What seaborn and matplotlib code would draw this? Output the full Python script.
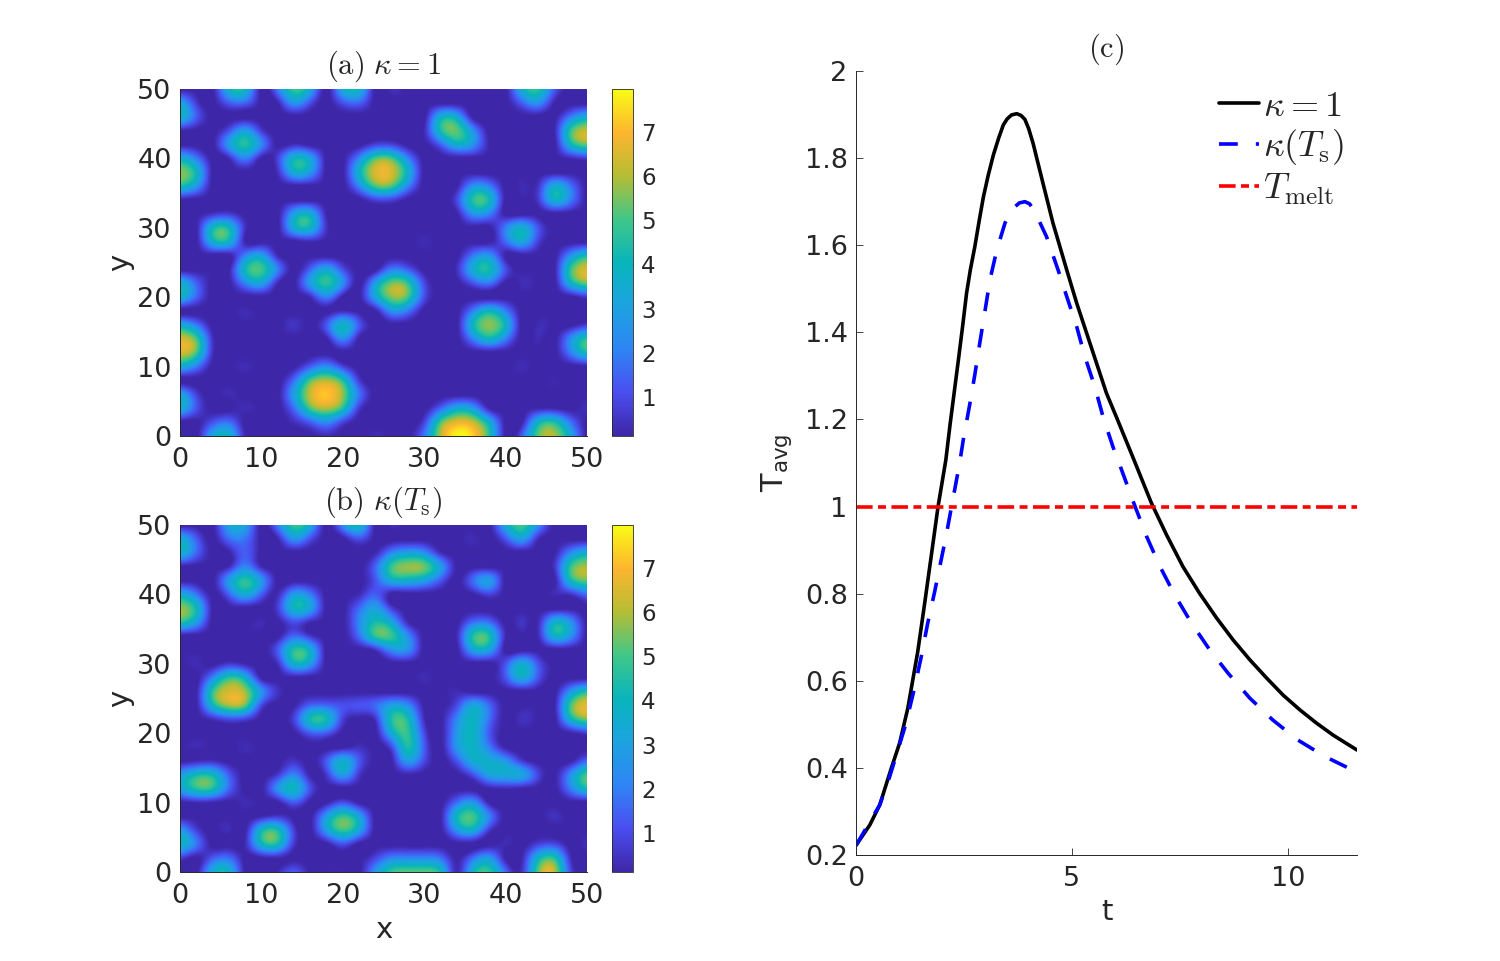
import matplotlib
matplotlib.use("Agg")
import matplotlib.pyplot as plt
import seaborn as sns
import numpy as np
from matplotlib.colors import LinearSegmentedColormap

# field values, nodes every 2 units, rows from y=50 down to y=0
field_a = [
    [0,0,0,3.7,4,0,2,4.8,3.3,0,3.4,3.8,0,.4,0,0,0,0,0,0,0,3.5,4.6,1.4,0,0],
    [3.2,.7,0,1.3,1.5,0,.2,2.6,1.1,0,1.1,1.5,0,0,0,0,0,0,0,0,0,1.4,2.5,.2,0,0],
    [3.9,1.4,0,0,0,0,0,0,0,0,0,0,0,0,0,0,3.4,3.3,0,0,0,0,0,0,2,3.4],
    [.2,0,0,1.1,2.9,.7,0,0,0,0,0,0,0,0,0,.3,4.2,5.2,2.5,0,0,0,0,.2,4.7,6.2],
    [0,0,0,2.7,4.5,2.3,0,.4,0,0,0,0,.8,.8,0,0,1.4,3.5,2.5,.2,0,0,0,0,3.8,5.3],
    [3.7,2,0,.3,2.1,.1,.8,3.8,3.1,0,0,2.2,5,5,2.2,0,0,0,0,0,0,0,0,0,.3,.7],
    [5.7,4,.1,0,0,0,.4,3.4,2.7,0,0,3.7,6.4,6.4,3.7,0,0,0,0,0,0,0,0,0,0,0],
    [4.3,2.7,0,0,0,0,0,0,0,0,0,2.2,5,5,2.2,0,0,.1,2.5,2.1,0,.3,.5,3.4,1.8,0],
    [.1,0,0,0,0,0,0,0,0,0,0,0,.8,.8,0,0,0,.9,4.5,4.1,0,0,.6,3.6,2,0],
    [0,0,.5,.7,0,0,0,2.9,3.5,.2,0,0,0,0,0,0,0,.1,2.5,2.1,0,0,0,0,0,0],
    [0,.1,3.9,4.1,.5,0,0,3.3,3.8,.5,0,0,0,0,0,0,0,0,0,0,2,3.6,1.2,0,0,0],
    [0,0,3.5,3.7,.2,0,0,0,.3,0,0,0,0,0,0,.3,0,0,0,0,1.6,3.2,.8,0,0,0],
    [0,0,0,0,2.1,3,.3,0,0,0,0,0,0,0,0,0,0,0,1.9,2.6,.1,0,0,0,2.5,4.2],
    [0,0,0,.1,4,4.9,2.1,0,1.5,3.2,1.1,0,0,2,1.4,0,0,.4,3.4,4.2,1.1,0,0,.1,4.7,6.5],
    [3.7,1.5,0,0,2.1,3,.3,0,2.8,4.6,2.4,0,2.9,5.4,4.7,1,0,0,1.1,1.8,0,.3,0,0,3.6,5.3],
    [3.7,1.5,0,0,0,0,0,0,.3,2.1,0,0,3,5.5,4.9,1.1,0,0,0,0,0,0,0,0,0,.6],
    [0,0,0,0,.3,0,0,0,0,0,.3,0,.1,2.5,1.9,0,0,0,2.1,3.9,2.1,0,0,0,0,0],
    [3.5,2,0,0,0,0,0,.5,0,1.3,3.8,1.3,0,0,0,0,0,0,3.9,5.6,3.9,0,.3,0,0,.7],
    [6.4,5,.5,0,0,0,0,0,0,.1,2.3,.1,0,0,0,0,0,0,2.1,3.9,2.1,0,.3,0,2.4,4.6],
    [6.4,5,.5,0,0,0,0,0,0,0,0,0,0,0,0,0,0,0,0,0,0,0,0,0,2,4.2],
    [3.5,2,0,0,.3,0,0,.1,1.4,2.4,.9,0,0,0,0,0,0,0,0,0,0,.3,0,0,0,.1],
    [0,0,0,0,0,0,0,1.7,5,6,4.5,.7,0,0,0,0,0,0,0,0,0,0,0,.2,0,0],
    [3.2,.8,0,.3,0,0,0,2.9,6.2,7.2,5.7,1.9,0,0,0,0,0,0,0,0,0,0,0,0,0,0],
    [3.6,1.2,0,0,.3,0,0,1.7,5,6,4.5,.7,0,0,0,0,1.5,3.3,2.8,.2,0,0,.2,.2,0,.4],
    [0,0,1.1,1.7,0,0,0,.4,1.4,2.4,.9,0,0,0,0,.8,4.9,6.6,6.2,3.5,0,.1,3.7,4.3,1.8,0],
    [0,0,3.1,3.8,.3,0,0,0,0,.3,0,0,.3,0,0,1.9,6,7.9,7.4,4.6,.1,1.4,5.2,5.9,3.3,0],
]
field_b = [
    [0,0,0,3,3,0,2,4.8,3.3,0,2.3,4,.1,.4,0,0,0,0,0,0,3.3,5,2.5,0,0,0],
    [3.5,1.4,0,1.6,1.8,0,.2,2.6,1.1,0,0,1.1,0,0,0,0,0,0,.3,0,1.2,2.9,.4,0,0,0],
    [3.8,1.6,0,.1,1.4,0,0,0,0,0,0,0,.2,2.2,3,2.5,.4,0,0,0,0,0,0,.1,2.3,3.5],
    [.1,0,0,.3,2.2,.3,0,0,0,0,0,0,1.5,4.8,5.7,5.4,2.9,.1,0,0,0,0,0,.5,4.7,5.9],
    [0,0,0,2.7,4.6,2.7,0,0,0,0,0,0,1.2,3.4,3.6,3,1.3,0,1.6,2.8,0,0,0,0,4,5.3],
    [3.5,1.9,0,1.4,3.3,1.4,.3,2.8,2,0,0,.3,1.4,0,0,0,0,0,.1,.8,0,0,0,.3,.5,1.7],
    [5.8,4.1,.1,0,0,0,.7,3.8,3,0,0,1.6,3,.8,0,0,0,0,0,0,0,0,0,0,0,0],
    [4.6,2.9,0,0,0,.3,0,1.1,.3,0,0,2.2,4.3,3.2,.3,0,0,0,1.7,1.7,0,.5,.3,3.6,2.5,0],
    [0,0,0,0,0,0,0,1.6,.6,0,0,1.7,4.7,4.8,2.4,0,0,.3,4.4,4.4,.3,0,.3,3.6,2.5,0],
    [0,0,0,0,0,0,1.3,4.5,3.6,0,0,0,.5,2.4,2.4,0,0,0,3,3,0,0,0,0,0,0],
    [0,.3,0,.6,.2,0,.4,3.6,2.8,0,0,0,0,0,0,0,0,0,0,0,1.2,3.4,1.2,0,0,0],
    [0,0,2.2,4.6,3.6,.1,0,.1,0,0,0,0,0,0,0,.3,0,0,0,0,1.2,3.4,1.2,0,0,0],
    [0,.1,4.6,6.4,5.8,2.6,.5,0,0,0,0,0,0,0,0,0,0,.3,0,0,0,0,0,0,2.6,4.4],
    [0,.1,3.8,5.8,5.2,1,0,.1,1.5,1.6,1.1,1.2,1.6,3,2.4,.1,0,1,3.2,1.6,0,0,0,.1,4.9,6.7],
    [0,0,.4,1,.8,0,0,.8,4.1,4.1,.8,0,.5,4.4,4.3,.4,0,2.2,3.9,1.7,0,.4,0,0,3.7,5.4],
    [0,0,0,0,0,0,0,0,1.3,1.3,0,0,0,3.3,4.7,1,0,2.6,3.9,1.3,0,0,0,0,.1,.7],
    [0,.3,0,0,.3,0,0,0,0,0,0,.4,0,1,4.4,1.4,0,2.6,3.8,2,.1,0,0,0,0,0],
    [0,.3,.4,0,0,0,0,.5,0,1.3,3.5,1.3,0,.1,2.8,1,0,1.2,3.4,3.5,2.6,.7,0,0,.1,1.6],
    [2.8,4.1,4,1.4,0,0,.6,2.2,.1,.6,2.8,.6,0,0,.2,0,0,0,1.1,3,3.3,3.1,.9,.1,2.4,5],
    [3,4.5,4.4,1.6,0,0,2.4,3.9,1.1,0,0,0,0,0,0,0,0,0,0,.1,.3,.1,0,0,2,4.1],
    [0,.3,.2,0,.3,0,0,1.3,0,.1,1.1,.1,0,0,0,0,0,1.7,2.7,.1,0,0,0,0,0,0],
    [0,0,0,0,0,.2,.6,0,0,2.8,4.8,3.1,0,0,0,0,.1,3.9,4.9,2.1,0,0,0,.4,0,0],
    [2.9,.8,0,.3,.1,3.9,4.3,.8,0,2.8,4.8,3.1,0,0,0,0,0,2.5,3.4,.6,0,0,0,0,0,0],
    [4,1.9,0,0,.3,3.7,4.1,.6,0,0,1.1,0,0,0,0,0,0,0,0,0,.3,0,.8,1,0,.4],
    [.8,0,1.3,1.7,0,.1,.2,0,0,0,0,0,.9,2.2,2.3,2.3,1.8,.1,1.7,2.7,.1,.2,3.7,4.5,.4,0],
    [0,0,3.4,3.8,.1,0,.3,1.3,0,0,.2,0,2.6,4.8,5.2,5.2,4.2,.3,3.7,4.7,1.7,.5,5.2,6.2,1,0],
]

# averaged temperature curves
t_black = [0, .32, .55, .82, 1.01, 1.2, 1.43, 1.59, 1.74, 1.9, 2.08, 2.18, 2.37, 2.47, 2.56, 2.65, 2.75, 2.85, 2.95, 3.06,
           3.18, 3.3, 3.41, 3.5, 3.6, 3.72, 3.82, 3.91, 4.0, 4.1, 4.33, 4.56, 4.88, 5.11, 5.34, 5.57, 5.8, 6.04, 6.42,
           6.84, 7.19, 7.57, 7.96, 8.35, 8.73, 9.12, 9.51, 9.89, 10.28, 10.66, 11.05, 11.6]
T_black = [.222, .269, .315, .40, .457, .537, .667, .778, .885, 1.0, 1.107, 1.19, 1.336, 1.415, 1.49, 1.545, 1.596, 1.655, 1.711, 1.76,
           1.807, 1.845, 1.876, 1.89, 1.899, 1.902, 1.898, 1.889, 1.867, 1.834, 1.742, 1.651, 1.543, 1.467, 1.398, 1.329, 1.26, 1.203, 1.111,
           1.008, .935, .862, .80, .744, .694, .648, .606, .567, .533, .503, .475, .441]
t_blue = [0, .55, .78, .97, 1.16, 1.36, 1.51, 1.66, 1.82, 1.94, 2.09, 2.25, 2.4, 2.49, 2.64, 2.75, 2.87, 2.99,
          3.1, 3.26, 3.45, 3.55, 3.64, 3.78, 3.91, 4.02, 4.14, 4.41, 4.68, 4.88, 5.11, 5.3, 5.53, 5.72, 5.95, 6.15, 6.42,
          6.73, 7.04, 7.38, 7.77, 8.19, 8.61, 9.12, 9.65, 10.23, 10.86, 11.6]
T_blue = [.222, .315, .38, .441, .503, .586, .655, .732, .804, .862, .935, 1.02, 1.10, 1.157, 1.238, 1.302, 1.378, 1.451,
          1.52, 1.589, 1.651, 1.67, 1.685, 1.697, 1.70, 1.695, 1.677, 1.62, 1.543, 1.482, 1.413, 1.344, 1.275, 1.206, 1.137, 1.084, 1.011,
          .931, .862, .797, .732, .671, .618, .56, .51, .464, .426, .39]
t_melt = [0, 11.6]
T_melt = [1, 1]

grid_ticks = [0, 10, 20, 30, 40, 50]
cbar_ticks = [1, 2, 3, 4, 5, 6, 7]
t_ticks = [0, 5, 10]
T_ticks = [0.2, 0.4, 0.6, 0.8, 1, 1.2, 1.4, 1.6, 1.8, 2]
T_labels = ["0.2", "0.4", "0.6", "0.8", "1", "1.2", "1.4", "1.6", "1.8", "2"]

parula = LinearSegmentedColormap.from_list("parula_like", [
    "#3e26a8", "#4a4ef0", "#2f85f5", "#1ca3e0", "#08b5bc",
    "#40c788", "#b5bd35", "#fdb52f", "#f9fb15",
])

sns.set_theme(style="ticks")
plt.rcParams["font.family"] = ["DejaVu Sans"]
plt.rcParams["mathtext.fontset"] = "cm"
plt.rcParams["axes.linewidth"] = 0.7
plt.rcParams["axes.edgecolor"] = "#262626"

W, H = 1500, 961
fig = plt.figure(figsize=(W / 100, H / 100), dpi=100)


def px_axes(left, top, right, bottom):
    return fig.add_axes([left / W, 1 - bottom / H, (right - left) / W, (bottom - top) / H])


def draw_field(field, top, bottom, title, xlabel=None):
    ax = px_axes(180, top, 587, bottom)
    # spline36 keeps the blob edges steeper than bicubic does
    im = ax.imshow(field, cmap=parula, vmin=0.12, vmax=7.97, extent=(-1, 51, -1, 51),
                   origin="upper", interpolation="spline36", aspect="auto")
    ax.set_xlim(0, 50)
    ax.set_ylim(0, 50)
    ax.set_xticks(grid_ticks)
    ax.set_yticks(grid_ticks)
    ax.tick_params(labelsize=19.5, direction="in", length=0, colors="#262626")
    ax.tick_params(axis="x", pad=8)
    ax.tick_params(axis="y", pad=6)
    ax.set_ylabel("y", fontsize=21, color="#262626", labelpad=2)
    if xlabel:
        ax.set_xlabel(xlabel, fontsize=21, color="#262626", labelpad=5)
    ax.set_title(title, fontsize=22, color="#262626", pad=11)
    sns.despine(ax=ax)
    cax = px_axes(612, top, 633, bottom)
    cb = fig.colorbar(im, cax=cax, ticks=cbar_ticks)
    cb.ax.tick_params(labelsize=16.5, direction="in", length=3, width=0.6, pad=6, colors="#262626")
    cb.outline.set_linewidth(0.6)
    return ax


draw_field(field_a, 89, 436, r"$\mathrm{(a)}\ \kappa = 1$")
draw_field(field_b, 525, 872, r"$\mathrm{(b)}\ \kappa(T_{\mathrm{s}})$", xlabel="x")

ax_c = px_axes(856, 71, 1357, 855)
sns.lineplot(x=t_black, y=T_black, ax=ax_c, color="black", linewidth=2.6, sort=False,
             estimator=None, errorbar=None, label=r"$\kappa = 1$")
sns.lineplot(x=t_blue, y=T_blue, ax=ax_c, color="#0000ff", linewidth=2.6, sort=False, estimator=None,
             errorbar=None, linestyle=(0, (5.2, 5)), label=r"$\kappa(T_{\mathrm{s}})$")
sns.lineplot(x=t_melt, y=T_melt, ax=ax_c, color="#ff0000", linewidth=2.6, sort=False, estimator=None,
             errorbar=None, linestyle=(0, (4.6, 1.5, 2.2, 1.5)), label=r"$T_{\mathrm{melt}}$")
for ln in ax_c.get_lines():
    ln.set_dash_capstyle("butt")
ax_c.set_xlim(0, 11.6)
ax_c.set_ylim(0.2, 2)
ax_c.set_xticks(t_ticks)
ax_c.set_yticks(T_ticks, labels=T_labels)
ax_c.tick_params(labelsize=19.5, direction="in", length=5, width=0.6, colors="#262626")
ax_c.tick_params(axis="x", pad=8)
ax_c.tick_params(axis="y", pad=6)
ax_c.set_xlabel("t", fontsize=21, color="#262626", labelpad=4)
ax_c.set_ylabel(r"T$_{\mathrm{avg}}$", fontsize=22, color="#262626", labelpad=8, math_fontfamily="dejavusans")
ax_c.set_title(r"$\mathrm{(c)}$", fontsize=22, color="#262626", pad=10)
sns.despine(ax=ax_c)
ax_c.legend(loc="upper right", bbox_to_anchor=(0.974, 0.977), frameon=False, fontsize=26, handlelength=1.1,
            handletextpad=0.12, labelspacing=0.12, borderpad=0, borderaxespad=0)

fig.savefig("out.png", dpi=100)
